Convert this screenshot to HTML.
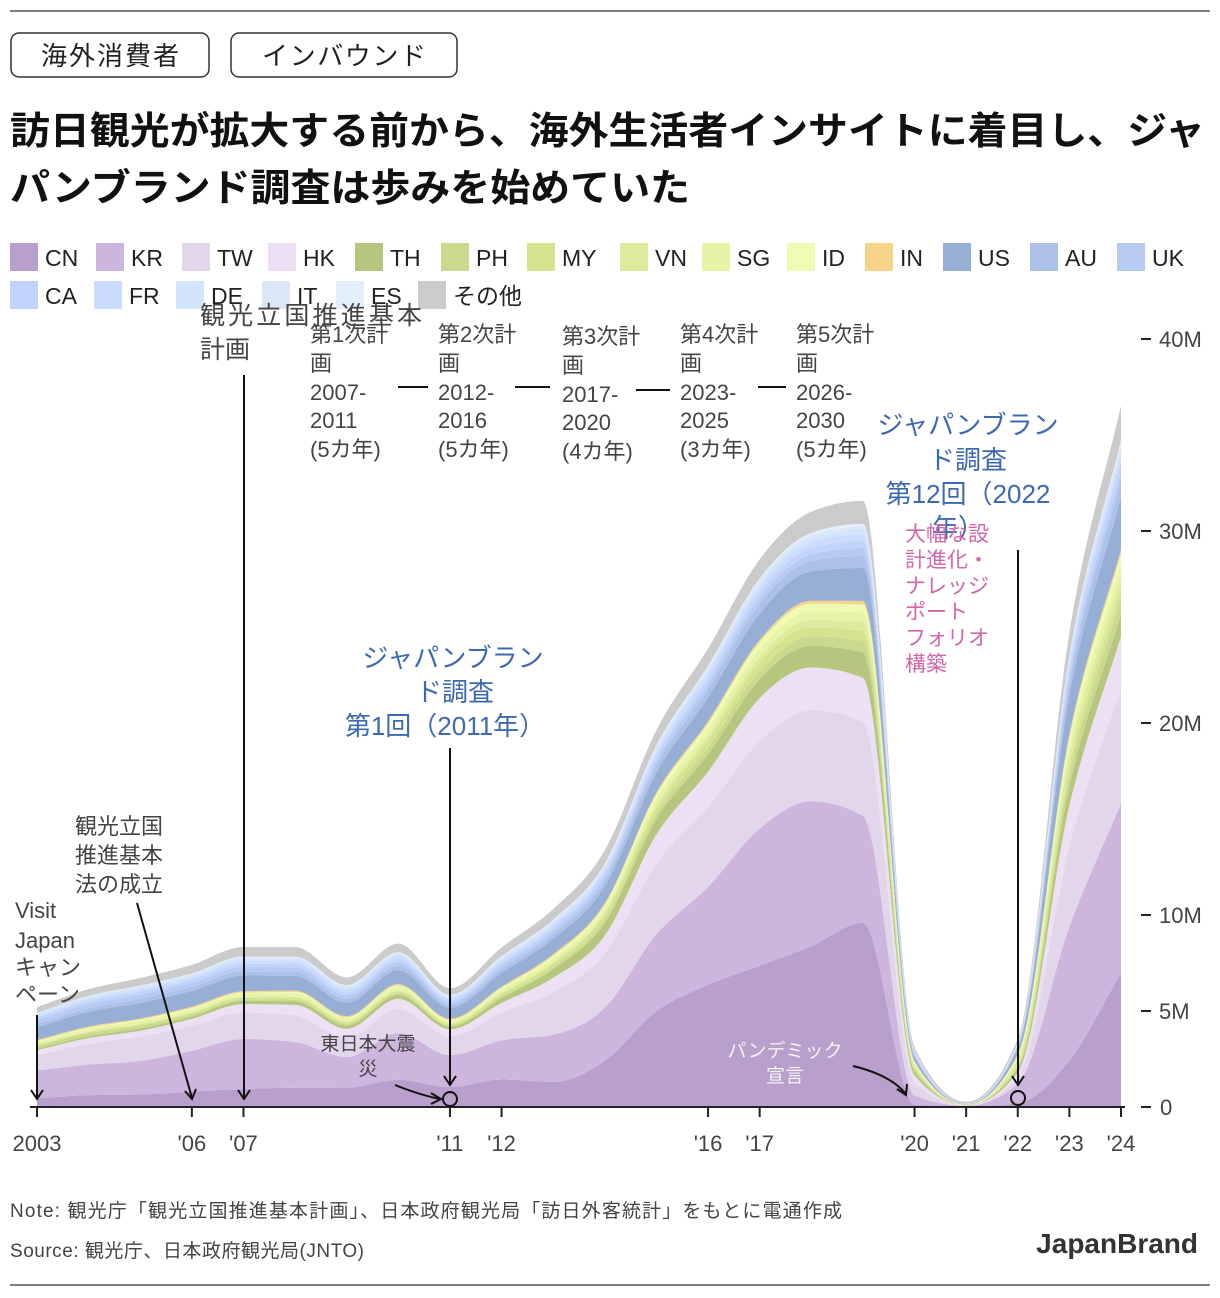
<!DOCTYPE html>
<html><head><meta charset="utf-8">
<style>
body{margin:0;background:#fff;}
svg{display:block;font-family:"Liberation Sans","Noto Sans CJK JP",sans-serif;}
</style></head>
<body>
<svg id="chart" width="1220" height="1298" viewBox="0 0 1220 1298" xmlns="http://www.w3.org/2000/svg">
<line x1="10" y1="11" x2="1210" y2="11" stroke="#555" stroke-width="1.5"/>
<line x1="10" y1="1285" x2="1210" y2="1285" stroke="#555" stroke-width="1.5"/>
<g><rect x="11" y="33" width="198" height="44" rx="8" fill="#fff" stroke="#333" stroke-width="1.5"/><text x="110" y="65" text-anchor="middle" font-size="26" fill="#222" textLength="138">海外消費者</text></g>
<g><rect x="231" y="33" width="226" height="44" rx="8" fill="#fff" stroke="#333" stroke-width="1.5"/><text x="344" y="65" text-anchor="middle" font-size="26" fill="#222" textLength="164">インバウンド</text></g>
<text x="10" y="144" font-size="38" font-weight="bold" fill="#111" textLength="1195" lengthAdjust="spacingAndGlyphs">訪日観光が拡大する前から、海外生活者インサイトに着目し、ジャ</text>
<text x="10" y="201" font-size="38" font-weight="bold" fill="#111" textLength="680" lengthAdjust="spacingAndGlyphs">パンブランド調査は歩みを始めていた</text>
<g id="legend"></g>
<g id="areas"></g>
<g id="axes"></g>
<g font-size="22" fill="#444">
 <text x="15" y="918">Visit</text>
 <text x="15" y="948">Japan</text>
 <text x="15" y="975">キャン</text>
 <text x="15" y="1002">ペーン</text>
 <line x1="37" y1="1015" x2="37" y2="1098" stroke="#111" stroke-width="2"/>
 <path d="M31 1090 L37 1099 L43 1090" fill="none" stroke="#111" stroke-width="2"/>
 <text x="75" y="834">観光立国</text>
 <text x="75" y="863">推進基本</text>
 <text x="75" y="892">法の成立</text>
 <line x1="137" y1="903" x2="192" y2="1098" stroke="#111" stroke-width="2"/>
 <path d="M185 1091 L192 1099 L196 1089" fill="none" stroke="#111" stroke-width="2"/>
 <text x="200" y="324" font-size="25" textLength="222">観光立国推進基本</text>
 <text x="200" y="358" font-size="25">計画</text>
 <line x1="244" y1="375" x2="244" y2="1098" stroke="#111" stroke-width="2"/>
 <path d="M238 1090 L244 1099 L250 1090" fill="none" stroke="#111" stroke-width="2"/>
 <g>
  <text x="310" y="342">第1次計</text><text x="310" y="371">画</text><text x="310" y="400">2007-</text><text x="310" y="428">2011</text><text x="310" y="457">(5カ年)</text>
  <text x="438" y="342">第2次計</text><text x="438" y="371">画</text><text x="438" y="400">2012-</text><text x="438" y="428">2016</text><text x="438" y="457">(5カ年)</text>
  <text x="562" y="344">第3次計</text><text x="562" y="373">画</text><text x="562" y="402">2017-</text><text x="562" y="430">2020</text><text x="562" y="459">(4カ年)</text>
  <text x="680" y="342">第4次計</text><text x="680" y="371">画</text><text x="680" y="400">2023-</text><text x="680" y="428">2025</text><text x="680" y="457">(3カ年)</text>
  <text x="796" y="342">第5次計</text><text x="796" y="371">画</text><text x="796" y="400">2026-</text><text x="796" y="428">2030</text><text x="796" y="457">(5カ年)</text>
  <g stroke="#111" stroke-width="2"><line x1="398" y1="387" x2="428" y2="387"/><line x1="515" y1="387" x2="550" y2="387"/><line x1="636" y1="390" x2="670" y2="390"/><line x1="758" y1="387" x2="786" y2="387"/></g>
 </g>
 <g fill="#3d68b2" font-size="26" text-anchor="middle">
  <text x="453" y="667">ジャパンブラン</text><text x="455" y="701">ド調査</text><text x="445" y="735">第1回（2011年）</text>
 </g>
 <line x1="450" y1="748" x2="450" y2="1084" stroke="#111" stroke-width="2"/>
 <path d="M444 1076 L450 1085 L456 1076" fill="none" stroke="#111" stroke-width="2"/>
 <circle cx="450" cy="1099" r="7" fill="none" stroke="#111" stroke-width="2"/>
 <text x="368" y="1050" font-size="19" text-anchor="middle">東日本大震</text>
 <text x="368" y="1075" font-size="19" text-anchor="middle">災</text>
 <path d="M395 1085 Q420 1095 440 1099" fill="none" stroke="#111" stroke-width="2"/>
 <path d="M431 1093 L441 1099 L431 1104" fill="none" stroke="#111" stroke-width="2"/>
 <g fill="#3d68b2" font-size="26" text-anchor="middle">
  <text x="968" y="434">ジャパンブラン</text><text x="968" y="469">ド調査</text><text x="968" y="503">第12回（2022</text><text x="958" y="537">年）</text>
 </g>
 <g fill="#d266a6" font-size="21">
  <text x="905" y="541">大幅な設</text><text x="905" y="567">計進化・</text><text x="905" y="593">ナレッジ</text><text x="905" y="619">ポート</text><text x="905" y="645">フォリオ</text><text x="905" y="671">構築</text>
 </g>
 <line x1="1018" y1="550" x2="1018" y2="1084" stroke="#111" stroke-width="2"/>
 <path d="M1012 1076 L1018 1085 L1024 1076" fill="none" stroke="#111" stroke-width="2"/>
 <circle cx="1018" cy="1098" r="7" fill="none" stroke="#111" stroke-width="2"/>
 <text x="785" y="1057" font-size="19" fill="#f4f4f4" text-anchor="middle">パンデミック</text>
 <text x="785" y="1082" font-size="19" fill="#f4f4f4" text-anchor="middle">宣言</text>
 <path d="M853 1066 Q890 1075 905 1093" fill="none" stroke="#111" stroke-width="2"/>
 <path d="M897 1089 L906 1095 L907 1084" fill="none" stroke="#111" stroke-width="2"/>
</g>
<text x="10" y="1217" font-size="19" fill="#444" textLength="832">Note: 観光庁「観光立国推進基本計画」、日本政府観光局「訪日外客統計」をもとに電通作成</text>
<text x="10" y="1257" font-size="19" fill="#444" textLength="354">Source: 観光庁、日本政府観光局(JNTO)</text>
<text x="1198" y="1253" font-size="28" font-weight="bold" fill="#333" text-anchor="end">JapanBrand</text>
</svg>
<script>
const years=[2003,2004,2005,2006,2007,2008,2009,2010,2011,2012,2013,2014,2015,2016,2017,2018,2019,2020,2021,2022,2023,2024];
const seriesNames=["CN","KR","TW","HK","TH","PH","MY","VN","SG","ID","IN","US","AU","UK","CA","FR","DE","IT","ES","その他"];
const seriesColors=["#b89fcc","#cdb6dd","#e2d6ea","#ede0f4","#b6c67e","#c9da8e","#d5e38e","#dfeb9c","#e6f4a8","#eefbb2","#f5d48a","#97aed5","#adc1e8","#b7caf2","#c2d4fa","#cbdcfc","#d4e5fb","#dbe6f6","#e3eefb","#cbcbcb"];
const CN=[0.45,0.62,0.65,0.81,0.94,1.00,1.01,1.41,1.04,1.43,1.31,2.41,4.99,6.37,7.36,8.38,9.59,0.11,0.04,0.19,2.43,6.98];
const KR=[1.46,1.59,1.75,2.12,2.60,2.38,1.59,2.44,1.66,2.04,2.46,2.76,4.00,5.09,7.14,7.54,5.58,0.49,0.02,1.01,6.96,8.82];
const TW=[0.79,1.08,1.27,1.31,1.39,1.39,1.02,1.27,0.99,1.47,2.21,2.83,3.68,4.17,4.56,4.76,4.89,0.69,0.005,0.33,4.20,6.04];
const HK=[0.26,0.30,0.30,0.35,0.43,0.55,0.45,0.51,0.36,0.48,0.75,0.93,1.52,1.84,2.23,2.21,2.29,0.35,0.001,0.27,2.11,2.68];
const TH=[0.08,0.10,0.12,0.13,0.17,0.19,0.18,0.21,0.14,0.26,0.45,0.66,0.80,0.90,0.99,1.13,1.32,0.22,0.003,0.20,1.00,1.15];
const PH=[0.14,0.15,0.14,0.10,0.08,0.08,0.07,0.08,0.06,0.09,0.11,0.18,0.27,0.35,0.42,0.50,0.61,0.11,0.003,0.13,0.62,0.82];
const MY=[0.07,0.07,0.08,0.09,0.10,0.11,0.09,0.11,0.08,0.13,0.18,0.25,0.31,0.39,0.44,0.47,0.50,0.08,0.002,0.07,0.42,0.51];
const VN=[0.02,0.03,0.03,0.03,0.04,0.05,0.05,0.04,0.04,0.06,0.08,0.12,0.19,0.23,0.31,0.39,0.50,0.15,0.03,0.28,0.57,0.62];
const SG=[0.10,0.13,0.15,0.16,0.15,0.17,0.15,0.18,0.11,0.14,0.19,0.23,0.31,0.36,0.40,0.44,0.49,0.06,0.003,0.09,0.49,0.67];
const ID=[0.06,0.06,0.06,0.06,0.06,0.07,0.06,0.08,0.06,0.10,0.14,0.16,0.21,0.27,0.35,0.40,0.41,0.08,0.005,0.12,0.43,0.52];
const IN=[0.06,0.06,0.06,0.07,0.07,0.07,0.06,0.07,0.06,0.07,0.08,0.09,0.10,0.12,0.13,0.15,0.18,0.03,0.009,0.05,0.17,0.23];
const US=[0.66,0.77,0.82,0.82,0.82,0.77,0.70,0.73,0.57,0.72,0.80,0.89,1.03,1.24,1.37,1.53,1.72,0.22,0.02,0.32,2.05,2.72];
const AU=[0.17,0.19,0.21,0.20,0.22,0.24,0.21,0.23,0.16,0.21,0.24,0.30,0.38,0.45,0.50,0.55,0.62,0.14,0.003,0.09,0.61,0.92];
const UK=[0.20,0.22,0.22,0.22,0.22,0.21,0.18,0.18,0.14,0.17,0.19,0.22,0.26,0.29,0.31,0.33,0.42,0.05,0.008,0.06,0.32,0.44];
const CA=[0.13,0.14,0.15,0.16,0.17,0.17,0.15,0.15,0.10,0.14,0.15,0.18,0.23,0.27,0.31,0.33,0.38,0.05,0.003,0.05,0.43,0.55];
const FR=[0.09,0.10,0.11,0.12,0.14,0.15,0.15,0.15,0.10,0.13,0.15,0.18,0.21,0.25,0.27,0.30,0.34,0.04,0.008,0.04,0.27,0.39];
const DE=[0.10,0.11,0.12,0.12,0.13,0.13,0.12,0.12,0.08,0.11,0.12,0.14,0.16,0.18,0.20,0.22,0.24,0.03,0.005,0.04,0.21,0.33];
const IT=[0.04,0.05,0.05,0.05,0.06,0.06,0.07,0.06,0.05,0.07,0.09,0.08,0.10,0.12,0.13,0.15,0.16,0.01,0.002,0.01,0.13,0.20];
const ES=[0.02,0.02,0.03,0.03,0.04,0.04,0.04,0.04,0.04,0.04,0.06,0.06,0.08,0.09,0.10,0.12,0.13,0.01,0.002,0.01,0.08,0.14];
const OTHER=[0.3,0.35,0.4,0.45,0.5,0.5,0.4,0.45,0.35,0.45,0.55,0.7,0.8,0.9,1.0,1.1,1.2,0.2,0.1,0.2,1.2,1.8];
const seriesValues=[CN,KR,TW,HK,TH,PH,MY,VN,SG,ID,IN,US,AU,UK,CA,FR,DE,IT,ES,OTHER];
const yTicks=[0,5,10,20,30,40];
const yTickLabels=["0","5M","10M","20M","30M","40M"];
const xTickYears=[2003,2006,2007,2011,2012,2016,2017,2020,2021,2022,2023,2024];
const xTickLabels=["2003","'06","'07","'11","'12","'16","'17","'20","'21","'22","'23","'24"];

const NS="http://www.w3.org/2000/svg";
const xScale=y=>37+(y-2003)*(1121-37)/21;
const yScale=v=>1107-v*19.2;
function mk(tag,attrs,parent){const e=document.createElementNS(NS,tag);for(const k in attrs)e.setAttribute(k,attrs[k]);parent.appendChild(e);return e;}

function monoPath(pts,move){
  const n=pts.length;const d=[],m=[];
  for(let i=0;i<n-1;i++){d.push((pts[i+1][1]-pts[i][1])/(pts[i+1][0]-pts[i][0]));}
  for(let i=0;i<n;i++){
    if(i===0)m.push(d[0]);else if(i===n-1)m.push(d[n-2]);
    else{ if(d[i-1]*d[i]<=0)m.push(0); else {const h0=pts[i][0]-pts[i-1][0],h1=pts[i+1][0]-pts[i][0];const s0=d[i-1],s1=d[i];const p=(s0*h1+s1*h0)/(h0+h1);m.push((Math.sign(s0)+Math.sign(s1))*Math.min(Math.abs(s0),Math.abs(s1),0.5*Math.abs(p)));}}
  }
  let s=(move?"M":"L")+pts[0][0].toFixed(2)+","+pts[0][1].toFixed(2);
  for(let i=0;i<n-1;i++){const h=(pts[i+1][0]-pts[i][0])/3;
    s+="C"+(pts[i][0]+h).toFixed(2)+","+(pts[i][1]+m[i]*h).toFixed(2)+" "+(pts[i+1][0]-h).toFixed(2)+","+(pts[i+1][1]-m[i+1]*h).toFixed(2)+" "+pts[i+1][0].toFixed(2)+","+pts[i+1][1].toFixed(2);}
  return s;
}

const areas=document.getElementById('areas');
let base=years.map(()=>0);
seriesValues.forEach((vals,si)=>{
  const top=base.map((b,i)=>b+vals[i]);
  const topPts=years.map((y,i)=>[xScale(y),yScale(top[i])]);
  const botPts=years.map((y,i)=>[xScale(y),yScale(base[i])]).reverse();
  const p=mk('path',{d:monoPath(topPts,true)+monoPath(botPts,false)+"Z",fill:seriesColors[si]},areas);
  
  
  base=top;
});

const axes=document.getElementById('axes');
const xl=mk('line',{x1:30,y1:1107,x2:1125,y2:1107,stroke:"#222","stroke-width":2},axes);


xTickYears.forEach((y,i)=>{
  const x=xScale(y);
  const t=mk('line',{x1:x,y1:1107,x2:x,y2:1117,stroke:"#222","stroke-width":2},axes);
  
  
  const lb=mk('text',{x:x,y:1151,"text-anchor":"middle","font-size":22,fill:"#444"},axes);
  lb.textContent=xTickLabels[i];
  
  
});
yTicks.forEach((v,i)=>{
  const y=yScale(v);
  const t=mk('line',{x1:1141,y1:y,x2:1151,y2:y,stroke:"#222","stroke-width":2},axes);
  
  
  const lb=mk('text',{x:v===0?1160:1159,y:y+8,"font-size":22,fill:"#444"},axes);
  lb.textContent=yTickLabels[i];
  
  
});

const legend=document.getElementById('legend');
const legX=[10,96,182,268,355,441,527,620,702,787,865,943,1030,1117,10,94,176,262,336,418];
seriesNames.forEach((n,i)=>{
  const row=i<14?0:1;const y=row?281:243;
  const g=mk('g',{},legend);
  
  
  mk('rect',{x:legX[i],y:y,width:28,height:28,fill:seriesColors[i]},g);
  const t=mk('text',{x:legX[i]+35,y:y+23,"font-size":23,fill:"#222"},g);
  t.textContent=n;
});
</script>
</body></html>
